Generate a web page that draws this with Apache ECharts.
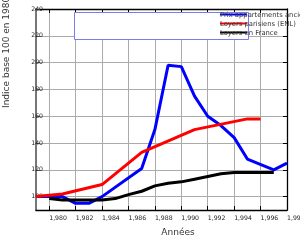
<!DOCTYPE html>
<html>
<head>
<meta charset="utf-8">
<script src="https://cdn.jsdelivr.net/npm/echarts@6/dist/echarts.min.js"></script>
<style>
  html, body { margin: 0; padding: 0; background: #fff; }
  #chart { width: 300px; height: 240px; }
</style>
</head>
<body>
<div id="chart"></div>
<script>
// Indice base 100 en 1980
var seriesNames = ['Prix appartements anciens', 'Loyers parisiens (ENL)', 'Loyers en France'];

var prixYears = [1979, 1981, 1982, 1983, 1984, 1987, 1988, 1989, 1990, 1991, 1992, 1993, 1994, 1995, 1997, 1998];
var prixVals  = [100, 100, 95, 95, 100, 121, 150, 198, 197, 175, 160, 153, 144, 128, 120, 125];

var parisYears = [1979, 1981, 1984, 1987, 1991, 1995, 1996];
var parisVals  = [100, 102, 109, 133, 150, 158, 158];

var franceYears = [1980, 1981, 1984, 1985, 1986, 1987, 1988, 1989, 1990, 1991, 1992, 1993, 1994, 1997];
var franceVals  = [98.5, 97.5, 97.5, 98.5, 101.5, 104, 108, 110, 111, 113, 115, 117, 118, 118];

var xTicks = [1980, 1982, 1984, 1986, 1988, 1990, 1992, 1994, 1996, 1998];
var yTicks = [100, 120, 140, 160, 180, 200, 220, 240];

var font = 'DejaVu Sans';

function pairs(xs, ys) {
  return xs.map(function (x, i) { return [x, ys[i]]; });
}

var myChart = echarts.init(document.getElementById('chart'));

var option = {
  animation: false,
  grid: { left: 36, right: 13, top: 9, bottom: 30, containLabel: false, outerBoundsMode: 'none' },
  xAxis: [
    {
      type: 'value', min: 1979, max: 1998, interval: 1,
      axisLine: { lineStyle: { color: '#000', width: 1.3 } },
      axisTick: { inside: true, length: 4, customValues: xTicks, lineStyle: { color: '#000' } },
      axisLabel: {
        customValues: xTicks,
        align: 'left', alignMinLabel: 'left', alignMaxLabel: 'left',
        margin: 5, fontSize: 6.2, color: '#222', fontFamily: font
      },
      splitLine: { show: true, lineStyle: { color: '#aaa', width: 1 } }
    },
    {
      type: 'value', min: 1979, max: 1998, interval: 1, position: 'top',
      axisLine: { lineStyle: { color: '#000', width: 1.3 } },
      axisTick: { inside: true, length: 4, customValues: xTicks, lineStyle: { color: '#000' } },
      axisLabel: { show: false },
      splitLine: { show: false }
    }
  ],
  yAxis: [
    {
      type: 'value', min: 90, max: 240, interval: 10,
      axisLine: { show: true, lineStyle: { color: '#777', width: 2 } },
      axisTick: { show: true, inside: true, length: 4, customValues: yTicks, lineStyle: { color: '#555' } },
      axisLabel: {
        customValues: yTicks,
        margin: -7, fontSize: 6.2, color: '#222', fontFamily: font
      },
      splitLine: { show: true, lineStyle: { color: '#aaa', width: 1 } }
    },
    {
      type: 'value', min: 90, max: 240, interval: 10, position: 'right',
      axisLine: { show: true, lineStyle: { color: '#000', width: 1.3 } },
      axisTick: { show: true, inside: true, length: 4, customValues: yTicks, lineStyle: { color: '#000' } },
      axisLabel: { show: false },
      splitLine: { show: false }
    }
  ],
  legend: [
    {
      data: seriesNames, left: 220, top: 10, orient: 'vertical', padding: 0,
      icon: 'rect', itemWidth: 27, itemHeight: 2, itemGap: 0,
      formatter: function () { return ' '; },
      textStyle: { fontSize: 7, lineHeight: 9 },
      selectedMode: false, z: 10
    },
    {
      data: seriesNames, left: 215, top: 11, orient: 'vertical', padding: 0,
      icon: 'rect', itemWidth: 0, itemHeight: 0, itemGap: 0,
      itemStyle: { opacity: 0 },
      textStyle: { fontSize: 6.8, lineHeight: 9, color: '#333', fontFamily: font },
      selectedMode: false, z: 20
    }
  ],
  graphic: [
    {
      type: 'rect', z: 5,
      shape: { x: 74.5, y: 12.5, width: 174, height: 27 },
      style: { fill: '#fff', stroke: '#7b7bf0', lineWidth: 1 }
    },
    {
      type: 'text', x: 7, y: 108, rotation: Math.PI / 2, z: 5,
      style: { text: 'Indice base 100 en 1980', fontSize: 9, fontFamily: font, fill: '#333', align: 'left', verticalAlign: 'middle' }
    },
    {
      type: 'text', x: 178, y: 233, z: 5,
      style: { text: 'Années', fontSize: 9, fontFamily: font, fill: '#333', align: 'center', verticalAlign: 'middle' }
    }
  ],
  series: [
    {
      name: seriesNames[0], type: 'line', color: '#0000ff', showSymbol: false,
      lineStyle: { width: 3 }, data: pairs(prixYears, prixVals)
    },
    {
      name: seriesNames[1], type: 'line', color: '#ff0000', showSymbol: false,
      lineStyle: { width: 3 }, data: pairs(parisYears, parisVals)
    },
    {
      name: seriesNames[2], type: 'line', color: '#000000', showSymbol: false,
      lineStyle: { width: 3 }, data: pairs(franceYears, franceVals)
    }
  ]
};

myChart.setOption(option);
</script>
</body>
</html>
